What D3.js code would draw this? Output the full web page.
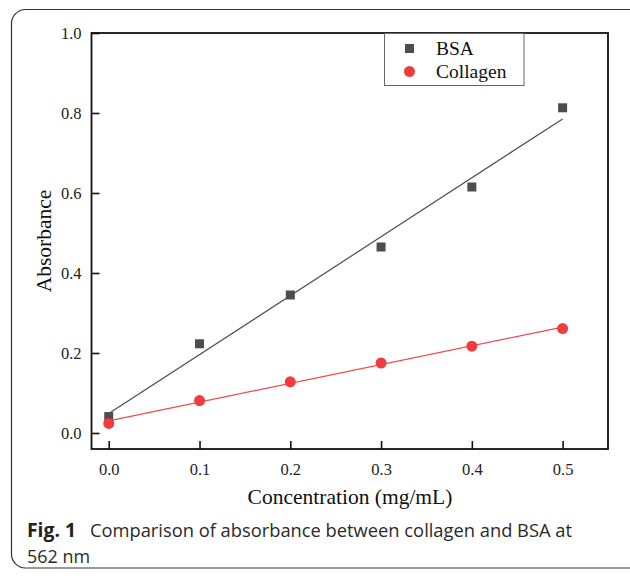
<!DOCTYPE html>
<html>
<head>
<meta charset="utf-8">
<script src="https://cdn.jsdelivr.net/npm/d3@7"></script>
<style>
  html, body { margin: 0; padding: 0; background: #fff; }
  svg { display: block; }
</style>
</head>
<body>
<svg id="chart" width="630" height="580"></svg>
<script>
// Concentration steps (mg/mL)
const concentrations = [0.0, 0.1, 0.2, 0.3, 0.4, 0.5];
// Measured absorbance at 562 nm
const bsaValues = [0.041, 0.223, 0.345, 0.465, 0.615, 0.813];
const collagenValues = [0.024, 0.081, 0.128, 0.175, 0.217, 0.261];
// Axis ticks
const xTicks = [0.0, 0.1, 0.2, 0.3, 0.4, 0.5];
const yTicks = [0.0, 0.2, 0.4, 0.6, 0.8, 1.0];
const seriesNames = ["BSA", "Collagen"];

const svg = d3.select("#chart");
const serif = "'Liberation Serif', 'Times New Roman', serif";

// Card outline around figure + caption
svg.append("rect")
  .attr("x", 11.5).attr("y", 9.5)
  .attr("width", 630 - 11.5 + 14).attr("height", 568 - 9.5)
  .attr("rx", 14).attr("ry", 14)
  .attr("fill", "none").attr("stroke", "#333").attr("stroke-width", 1.2);

const plot = { left: 91.5, right: 608, top: 33, bottom: 449 };

const x = d3.scaleLinear().domain([-0.019, 0.55]).range([plot.left, plot.right]);
const y = d3.scaleLinear().domain([-0.04, 1.0]).range([plot.bottom, plot.top]);

// Axes with inward ticks
const xAxis = d3.axisBottom(x).tickValues(xTicks).tickFormat(d3.format(".1f"))
  .tickSizeInner(-8).tickSizeOuter(0).tickPadding(14);
const yAxis = d3.axisLeft(y).tickValues(yTicks).tickFormat(d3.format(".1f"))
  .tickSizeInner(-8).tickSizeOuter(0).tickPadding(10);

const gx = svg.append("g").attr("transform", `translate(0,${plot.bottom})`).call(xAxis);
const gy = svg.append("g").attr("transform", `translate(${plot.left},0)`).call(yAxis);
[gx, gy].forEach(g => {
  g.select(".domain").remove();
  g.selectAll(".tick line").attr("stroke", "#111").attr("stroke-width", 1.6);
  g.selectAll(".tick text").attr("font-family", serif).attr("font-size", 16.5).attr("fill", "#222");
});
gy.selectAll(".tick text").attr("dy", "0.35em");

// Frame
svg.append("rect")
  .attr("x", plot.left).attr("y", plot.top)
  .attr("width", plot.right - plot.left).attr("height", plot.bottom - plot.top)
  .attr("fill", "none").attr("stroke", "#111").attr("stroke-width", 1.8);

// Linear least-squares fit
function fit(xs, ys) {
  const mx = d3.mean(xs), my = d3.mean(ys);
  const sxy = d3.sum(xs, (v, i) => (v - mx) * (ys[i] - my));
  const sxx = d3.sum(xs, v => (v - mx) ** 2);
  const slope = sxy / sxx;
  return { slope, intercept: my - slope * mx };
}

const series = [
  { name: seriesNames[0], values: bsaValues, color: "#4d4d4d", line: "#4d4d4d", shape: "square" },
  { name: seriesNames[1], values: collagenValues, color: "#f03c3c", line: "#f24a4a", shape: "circle" }
];

const xMin = d3.min(concentrations), xMax = d3.max(concentrations);
series.forEach(s => {
  const f = fit(concentrations, s.values);
  svg.append("line")
    .attr("x1", x(xMin)).attr("y1", y(f.intercept + f.slope * xMin))
    .attr("x2", x(xMax)).attr("y2", y(f.intercept + f.slope * xMax))
    .attr("stroke", s.line).attr("stroke-width", 1.2);
});

series.forEach(s => {
  const pts = concentrations.map((c, i) => [c, s.values[i]]);
  if (s.shape === "square") {
    svg.selectAll(null).data(pts).join("rect")
      .attr("x", d => x(d[0]) - 4.5).attr("y", d => y(d[1]) - 4.5)
      .attr("width", 9).attr("height", 9)
      .attr("fill", s.color);
  } else {
    svg.selectAll(null).data(pts).join("circle")
      .attr("cx", d => x(d[0])).attr("cy", d => y(d[1]))
      .attr("r", 5.5).attr("fill", s.color);
  }
});

// Legend
const lg = svg.append("g");
lg.append("rect").attr("x", 384.5).attr("y", 33.5).attr("width", 139.5).attr("height", 52)
  .attr("fill", "#fff").attr("stroke", "#666").attr("stroke-width", 1);
series.forEach((s, i) => {
  const cy = 48.5 + i * 23;
  if (s.shape === "square") {
    lg.append("rect").attr("x", 405).attr("y", cy - 4.5).attr("width", 9).attr("height", 9).attr("fill", s.color);
  } else {
    lg.append("circle").attr("cx", 409.5).attr("cy", cy).attr("r", 5.5).attr("fill", s.color);
  }
  lg.append("text").attr("x", 436).attr("y", cy + 6.5)
    .attr("font-family", serif).attr("font-size", 19.5).attr("fill", "#111").text(s.name);
});

// Axis titles
svg.append("text").attr("x", 350).attr("y", 504)
  .attr("text-anchor", "middle").attr("font-family", serif).attr("font-size", 21.5).attr("fill", "#111")
  .text("Concentration (mg/mL)");
svg.append("text").attr("transform", "translate(51,241) rotate(-90)")
  .attr("text-anchor", "middle").attr("font-family", serif).attr("font-size", 21.5).attr("fill", "#111")
  .text("Absorbance");

// Caption
const sans = "'Open Sans', 'Noto Sans', sans-serif";
svg.append("text").attr("x", 27).attr("y", 537)
  .attr("font-family", sans).attr("font-size", 19).attr("font-weight", "bold").attr("fill", "#222")
  .attr("textLength", 49).attr("lengthAdjust", "spacingAndGlyphs").text("Fig. 1");
svg.append("text").attr("x", 90).attr("y", 537)
  .attr("font-family", sans).attr("font-size", 19).attr("fill", "#2a2a2a")
  .attr("textLength", 482).attr("lengthAdjust", "spacingAndGlyphs")
  .text("Comparison of absorbance between collagen and BSA at");
svg.append("text").attr("x", 27).attr("y", 563)
  .attr("font-family", sans).attr("font-size", 19).attr("fill", "#2a2a2a")
  .attr("textLength", 63).attr("lengthAdjust", "spacingAndGlyphs").text("562 nm");
</script>
</body>
</html>
